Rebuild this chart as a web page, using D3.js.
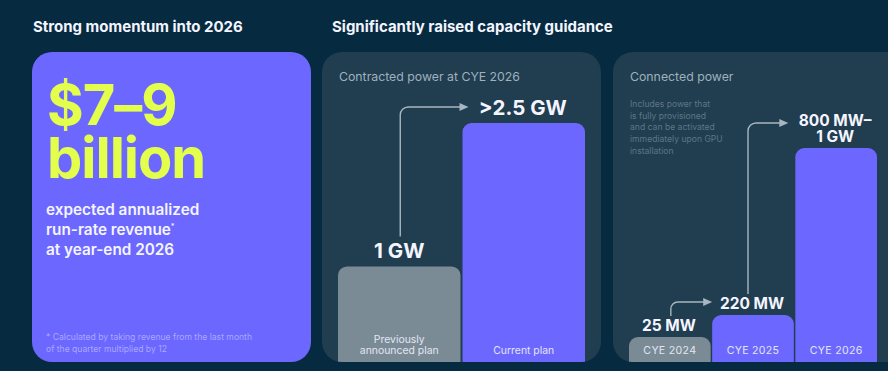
<!DOCTYPE html>
<html><head><meta charset="utf-8">
<script src="https://cdn.jsdelivr.net/npm/d3@7"></script>
<style>
html,body{margin:0;padding:0;background:#062a40;}
svg{display:block;font-family:Inter,"Noto Sans",sans-serif;}
</style></head>
<body><svg id="c" width="888" height="371"></svg>
<script>
// ---- data ----
const contractedCats = ["Previously announced plan", "Current plan"];
const contractedVals = [1, 2.5];            // GW
const contractedLabels = ["1 GW", ">2.5 GW"];
const connectedCats = ["CYE 2024", "CYE 2025", "CYE 2026"];
const connectedVals = [25, 220, 1000];      // MW
const connectedLabels = [["25 MW"], ["220 MW"], ["800 MW–", "1 GW"]];
const headlineLines = ["$7–9", "billion"];
const subLines = ["expected annualized", "run-rate revenue", "at year-end 2026"];
const footLines = ["Calculated by taking revenue from the last month", "of the quarter multiplied by 12"];
const noteLines = ["Includes power that", "is fully provisioned", "and can be activated", "immediately upon GPU", "installation"];

// ---- style ----
const C = {bg:"#062a40", panel:"#213d50", purple:"#6c68ff", grey:"#7a8b95", lime:"#e3ff4b",
  white:"#f4f5ff", muted:"#9fb1bd", note:"#5d7687", arrow:"#a7b6c0", foot:"#aaa7ff", inbar:"#e2e5f5"};
const svg = d3.select("#c");
svg.append("rect").attr("width",888).attr("height",371).attr("fill",C.bg);

// headers
svg.append("text").attr("x",33).attr("y",32).attr("fill",C.white).attr("font-size",15).attr("font-weight",700).text("Strong momentum into 2026");
svg.append("text").attr("x",332).attr("y",32).attr("fill",C.white).attr("font-size",15).attr("font-weight",700).text("Significantly raised capacity guidance");

// ---- left card ----
svg.append("rect").attr("x",32).attr("y",52).attr("width",279).attr("height",310).attr("rx",20).attr("fill",C.purple);
svg.selectAll(".hl").data(headlineLines).join("text")
  .attr("x",47).attr("y",(d,i)=>125+i*53).attr("fill",C.lime).attr("font-size",56).attr("font-weight",700)
  .attr("letter-spacing",-1).text(d=>d);
const sub = svg.selectAll(".sl").data(subLines).join("text")
  .attr("x",46).attr("y",(d,i)=>215+i*20).attr("fill",C.white).attr("font-size",15.3).attr("font-weight",600).text(d=>d);
sub.filter((d,i)=>i===1).append("tspan").attr("font-size",7).attr("dy",-6).text("*");
svg.selectAll(".fl").data(footLines).join("text")
  .attr("x",46).attr("y",(d,i)=>340+i*12.3).attr("fill",C.foot).attr("font-size",8.6)
  .text((d,i)=>i===0?"* "+d:d);

// ---- helpers ----
function topRounded(x,y,w,h,r){
  const p=d3.path();
  p.moveTo(x,y+h); p.lineTo(x,y+r); p.arcTo(x,y,x+r,y,r); p.lineTo(x+w-r,y); p.arcTo(x+w,y,x+w,y+r,r); p.lineTo(x+w,y+h); p.closePath();
  return p.toString();
}
function elbow(g,x0,y0,x1,y1,r){
  const p=d3.path();
  p.moveTo(x0,y0); p.lineTo(x0,y1+r); p.arcTo(x0,y1,x0+r,y1,r); p.lineTo(x1-7,y1);
  g.append("path").attr("d",p.toString()).attr("fill","none").attr("stroke",C.arrow).attr("stroke-width",1.4);
  g.append("path").attr("d",`M${x1},${y1}L${x1-9},${y1-4}L${x1-9},${y1+4}Z`).attr("fill",C.arrow);
}

const base = 362;

// ---- panel 2: contracted ----
const p2 = {x:322,y:52,w:279,h:310};
const clip2 = svg.append("clipPath").attr("id","clip2");
clip2.append("rect").attr("x",p2.x).attr("y",p2.y).attr("width",p2.w).attr("height",p2.h).attr("rx",20);
svg.append("rect").attr("x",p2.x).attr("y",p2.y).attr("width",p2.w).attr("height",p2.h).attr("rx",20).attr("fill",C.panel);
svg.append("text").attr("x",339).attr("y",81).attr("fill",C.muted).attr("font-size",12.3).text("Contracted power at CYE 2026");
const x2 = d3.scaleBand().domain(contractedCats).range([338,585]).paddingInner(0.016);
const y2 = d3.scaleLinear().domain([0,2.5]).range([base,123]);
const g2 = svg.append("g").attr("clip-path","url(#clip2)");
g2.selectAll("path.bar").data(contractedVals).join("path").attr("class","bar")
  .attr("d",(d,i)=>topRounded(x2(contractedCats[i]),y2(d),x2.bandwidth(),base-y2(d)+2,9))
  .attr("fill",(d,i)=>i===0?C.grey:C.purple);
svg.selectAll(".v2").data(contractedVals).join("text")
  .attr("x",(d,i)=>x2(contractedCats[i])+x2.bandwidth()/2+(i===1?-1:0)).attr("y",d=>y2(d)-8)
  .attr("text-anchor","middle").attr("fill",C.white).attr("font-size",20.5).attr("font-weight",700)
  .text((d,i)=>contractedLabels[i]);
// in-bar labels
const inb = [["Previously","announced plan"],["Current plan"]];
contractedCats.forEach((c,i)=>{
  const lines=inb[i];
  lines.forEach((t,j)=>{
    svg.append("text").attr("x",x2(c)+x2.bandwidth()/2).attr("y",354-(lines.length-1-j)*11)
      .attr("text-anchor","middle").attr("fill",C.inbar).attr("font-size",10.4).text(t);
  });
});
elbow(svg, x2(contractedCats[0])+x2.bandwidth()/2+1, y2(contractedVals[0])-30, x2(contractedCats[1])+6, y2(contractedVals[1])-16, 8);

// ---- panel 3: connected ----
const p3 = {x:613,y:52,w:300,h:310};
const clip3 = svg.append("clipPath").attr("id","clip3");
clip3.append("rect").attr("x",p3.x).attr("y",p3.y).attr("width",p3.w).attr("height",p3.h).attr("rx",20);
svg.append("rect").attr("x",p3.x).attr("y",p3.y).attr("width",p3.w).attr("height",p3.h).attr("rx",20).attr("fill",C.panel);
svg.append("text").attr("x",630).attr("y",81).attr("fill",C.muted).attr("font-size",12.3).text("Connected power");
svg.selectAll(".nl").data(noteLines).join("text")
  .attr("x",630).attr("y",(d,i)=>107+i*11.7).attr("fill",C.note).attr("font-size",8.6).text(d=>d);
const x3 = d3.scaleBand().domain(connectedCats).range([629,877]).paddingInner(0.018);
// non-linear display scale (chart is not drawn to scale)
const y3 = d3.scaleLinear().domain([0,25,220,1000]).range([base,337,315,148]);
const g3 = svg.append("g").attr("clip-path","url(#clip3)");
g3.selectAll("path.bar").data(connectedVals).join("path").attr("class","bar")
  .attr("d",(d,i)=>topRounded(x3(connectedCats[i]),y3(d),x3.bandwidth(),base-y3(d)+2,9))
  .attr("fill",(d,i)=>i===0?C.grey:C.purple);
connectedVals.forEach((v,i)=>{
  const lines=connectedLabels[i];
  lines.forEach((t,j)=>{
    svg.append("text").attr("x",x3(connectedCats[i])+x3.bandwidth()/2-1)
      .attr("y",y3(v)-6-(lines.length-1-j)*16)
      .attr("text-anchor","middle").attr("fill",C.white).attr("font-size",15.5).attr("font-weight",700).text(t);
  });
  svg.append("text").attr("x",x3(connectedCats[i])+x3.bandwidth()/2).attr("y",354)
    .attr("text-anchor","middle").attr("fill",C.inbar).attr("font-size",10.6).attr("letter-spacing",0.3).text(connectedCats[i]);
});
elbow(svg, x3(connectedCats[0])+x3.bandwidth()/2+1, y3(connectedVals[0])-21, x3(connectedCats[1]), y3(connectedVals[1])-13, 7);
elbow(svg, x3(connectedCats[1])+x3.bandwidth()/2-5, y3(connectedVals[1])-21, x3(connectedCats[2])-7, y3(connectedVals[2])-25, 8);
</script></body></html>
